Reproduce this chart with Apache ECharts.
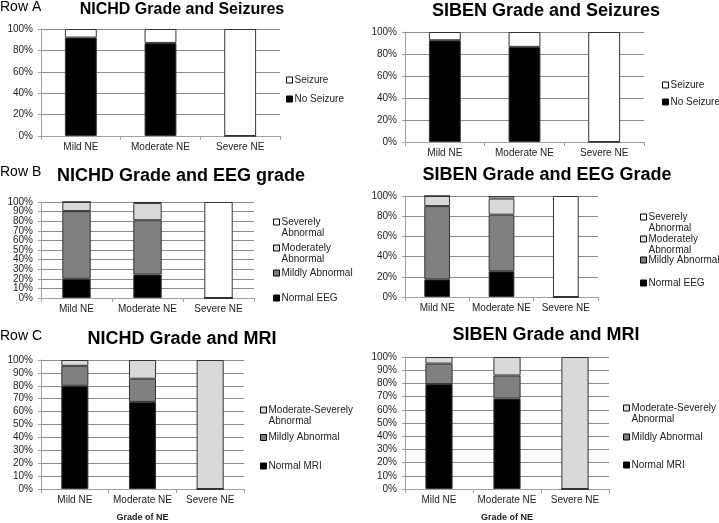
<!DOCTYPE html>
<html>
<head>
<meta charset="utf-8">
<script src="https://cdn.jsdelivr.net/npm/echarts@6/dist/echarts.min.js"></script>
<style>
html,body{margin:0;padding:0;background:#fff;}
#chart{width:719px;height:523px;}
</style>
</head>
<body>
<div id="chart"></div>
<script>
// ---- data ----
const categories = ['Mild NE', 'Moderate NE', 'Severe NE'];

// Row A: seizures
const nichdNoSeizure = [92, 87, 0];
const nichdSeizure = [8, 13, 100];
const sibenNoSeizure = [92.5, 86.5, 0];
const sibenSeizure = [7.5, 13.5, 100];

// Row B: EEG grade
const nichdEEGNormal = [20, 24.5, 0];
const nichdEEGMild = [70.5, 56.5, 0];
const nichdEEGModerate = [9.5, 18, 0];
const nichdEEGSevere = [0, 1, 100];
const sibenEEGNormal = [17.5, 25.5, 0];
const sibenEEGMild = [72.5, 56, 0];
const sibenEEGModerate = [10, 16, 0];
const sibenEEGSevere = [0, 2.5, 100];

// Row C: MRI
const nichdMRINormal = [80, 67.5, 0];
const nichdMRIMild = [15.5, 18, 0];
const nichdMRIModSev = [4.5, 14.5, 100];
const sibenMRINormal = [79.5, 68.5, 0];
const sibenMRIMild = [15.5, 17.5, 0];
const sibenMRIModSev = [5, 14, 100];

// titles / labels
const panelTitles = ['NICHD Grade and Seizures', 'SIBEN Grade and Seizures',
  'NICHD Grade and EEG grade', 'SIBEN Grade and EEG Grade',
  'NICHD Grade and MRI', 'SIBEN Grade and MRI'];
const rowLabels = ['Row A', 'Row B', 'Row C'];
const xAxisName = 'Grade of NE';

// ---- styling/layout ----
const COLORS = {
  'No Seizure': '#000000', 'Seizure': '#ffffff',
  'Normal EEG': '#000000', 'Mildly Abnormal': '#808080',
  'Moderately Abnormal': '#d9d9d9', 'Severely Abnormal': '#ffffff',
  'Normal MRI': '#000000', 'Moderate-Severely Abnormal': '#d9d9d9'
};
const FONT = '"Liberation Sans", Arial, sans-serif';

const grids = [
  {left: 41, top: 29, width: 239, height: 107},
  {left: 405, top: 32, width: 239, height: 110},
  {left: 41, top: 202, width: 213, height: 96},
  {left: 405, top: 196, width: 193, height: 101},
  {left: 41, top: 360, width: 203, height: 133},
  {left: 405, top: 357, width: 204, height: 136}
];
const yIntervals = [20, 20, 10, 20, 10, 10];

const panelSeries = [
  [['No Seizure', nichdNoSeizure], ['Seizure', nichdSeizure]],
  [['No Seizure', sibenNoSeizure], ['Seizure', sibenSeizure]],
  [['Normal EEG', nichdEEGNormal], ['Mildly Abnormal', nichdEEGMild], ['Moderately Abnormal', nichdEEGModerate], ['Severely Abnormal', nichdEEGSevere]],
  [['Normal EEG', sibenEEGNormal], ['Mildly Abnormal', sibenEEGMild], ['Moderately Abnormal', sibenEEGModerate], ['Severely Abnormal', sibenEEGSevere]],
  [['Normal MRI', nichdMRINormal], ['Mildly Abnormal', nichdMRIMild], ['Moderate-Severely Abnormal', nichdMRIModSev]],
  [['Normal MRI', sibenMRINormal], ['Mildly Abnormal', sibenMRIMild], ['Moderate-Severely Abnormal', sibenMRIModSev]]
];

// legend item positions: [name, iconLeft, iconCenterY]
const legendItems = [
  ['Seizure', 286, 80], ['No Seizure', 286, 99],
  ['Seizure', 662, 85], ['No Seizure', 662, 102],
  ['Severely Abnormal', 273, 222], ['Moderately Abnormal', 273, 248], ['Mildly Abnormal', 273, 273], ['Normal EEG', 273, 298],
  ['Severely Abnormal', 640, 217], ['Moderately Abnormal', 640, 239], ['Mildly Abnormal', 640, 260], ['Normal EEG', 640, 283],
  ['Moderate-Severely Abnormal', 260, 410], ['Mildly Abnormal', 260, 437.5], ['Normal MRI', 260, 466],
  ['Moderate-Severely Abnormal', 623, 408], ['Mildly Abnormal', 623, 437], ['Normal MRI', 623, 465]
];
const twoLine = {
  'Severely Abnormal': 'Severely\nAbnormal',
  'Moderately Abnormal': 'Moderately\nAbnormal',
  'Moderate-Severely Abnormal': 'Moderate-Severely\nAbnormal'
};

const titlePos = [[182, 2, 16], [546, 2, 18], [181, 167, 18], [547, 166, 18], [182, 330, 18], [546, 326, 18]];
const rowPos = [0, 165, 329];

const option = {
  backgroundColor: '#fff',
  animation: false,
  textStyle: {fontFamily: FONT},
  title: [],
  grid: grids.slice(),
  xAxis: [],
  yAxis: [],
  legend: [],
  series: []
};

panelTitles.forEach((t, i) => {
  option.title.push({
    text: t, left: titlePos[i][0], top: titlePos[i][1], textAlign: 'center', padding: 0,
    textStyle: {fontFamily: FONT, fontSize: titlePos[i][2], fontWeight: 'bold', color: '#000'}
  });
});
rowLabels.forEach((t, i) => {
  option.title.push({
    text: t, left: 0, top: rowPos[i], padding: 0,
    textStyle: {fontFamily: FONT, fontSize: 14, fontWeight: 'normal', color: '#000'}
  });
});

const yLabelStyle = {fontFamily: FONT, fontSize: 10, color: '#222', margin: 8};

grids.forEach((g, i) => {
  option.xAxis.push({
    type: 'category', gridIndex: i, data: categories,
    name: i >= 4 ? xAxisName : '', nameLocation: 'middle', nameGap: 24,
    nameTextStyle: {fontFamily: FONT, fontSize: 9, fontWeight: 'bold', color: '#222'},
    axisLine: {lineStyle: {color: '#a0a0a0', width: 1}},
    axisTick: {show: true, length: 4, lineStyle: {color: '#a0a0a0'}},
    axisLabel: {fontFamily: FONT, fontSize: 10, color: '#222', margin: 6, interval: 0, hideOverlap: false},
    splitLine: {show: false}
  });
  // the densely-labelled NICHD EEG panel shows its 0/20/40.. labels here,
  // and the 10/30/50.. labels on an overlaid label-only axis (avoids auto-hiding)
  const dense = (i === 2);
  option.yAxis.push({
    type: 'value', gridIndex: i, min: 0, max: 100, interval: yIntervals[i],
    axisLine: {show: true, lineStyle: {color: '#a0a0a0', width: 1}},
    axisTick: {show: true, length: 3, lineStyle: {color: '#a0a0a0'}},
    axisLabel: Object.assign({}, yLabelStyle, {
      formatter: dense ? (v => (v % 20 === 0 ? v + '%' : '')) : '{value}%',
      showMinLabel: true, showMaxLabel: true, hideOverlap: false}),
    splitLine: {show: true, lineStyle: {color: '#8c8c8c', width: 1}}
  });
  panelSeries[i].forEach(([name, values]) => {
    option.series.push({
      type: 'bar', name: name, xAxisIndex: i, yAxisIndex: i, stack: 'p' + i,
      data: values, barWidth: '40%',
      itemStyle: {color: COLORS[name], borderColor: '#333', borderWidth: 1},
      emphasis: {disabled: true}
    });
  });
});

// overlay grid for the odd labels of the NICHD EEG panel
option.grid.push(Object.assign({}, grids[2]));
option.xAxis.push({type: 'category', gridIndex: 6, data: categories, show: false});
option.yAxis.push({
  type: 'value', gridIndex: 6, min: 0, max: 100, interval: 10,
  axisLine: {show: false}, axisTick: {show: false}, splitLine: {show: false},
  axisLabel: Object.assign({}, yLabelStyle, {
    formatter: v => (v % 20 === 10 ? v + '%' : ''),
    showMinLabel: false, showMaxLabel: false, hideOverlap: false})
});

const LH = 11;
legendItems.forEach(([name, x, cy]) => {
  const multi = !!twoLine[name];
  const h = multi ? 3 * LH : LH;
  option.legend.push({
    data: [name], left: x, top: cy - h / 2, padding: 0,
    orient: 'vertical', icon: 'rect', itemWidth: 6, itemHeight: 6,
    itemStyle: {borderColor: '#000', borderWidth: 1},
    selectedMode: false,
    // leading blank line keeps the first text line level with the icon
    formatter: n => (twoLine[n] ? ' \n' + twoLine[n] : n),
    textStyle: {fontFamily: FONT, fontSize: 10, color: '#222', lineHeight: LH, padding: [0, 0, 0, -3]}
  });
});

const chart = echarts.init(document.getElementById('chart'), null, {renderer: 'canvas'});
chart.setOption(option);
</script>
</body>
</html>
